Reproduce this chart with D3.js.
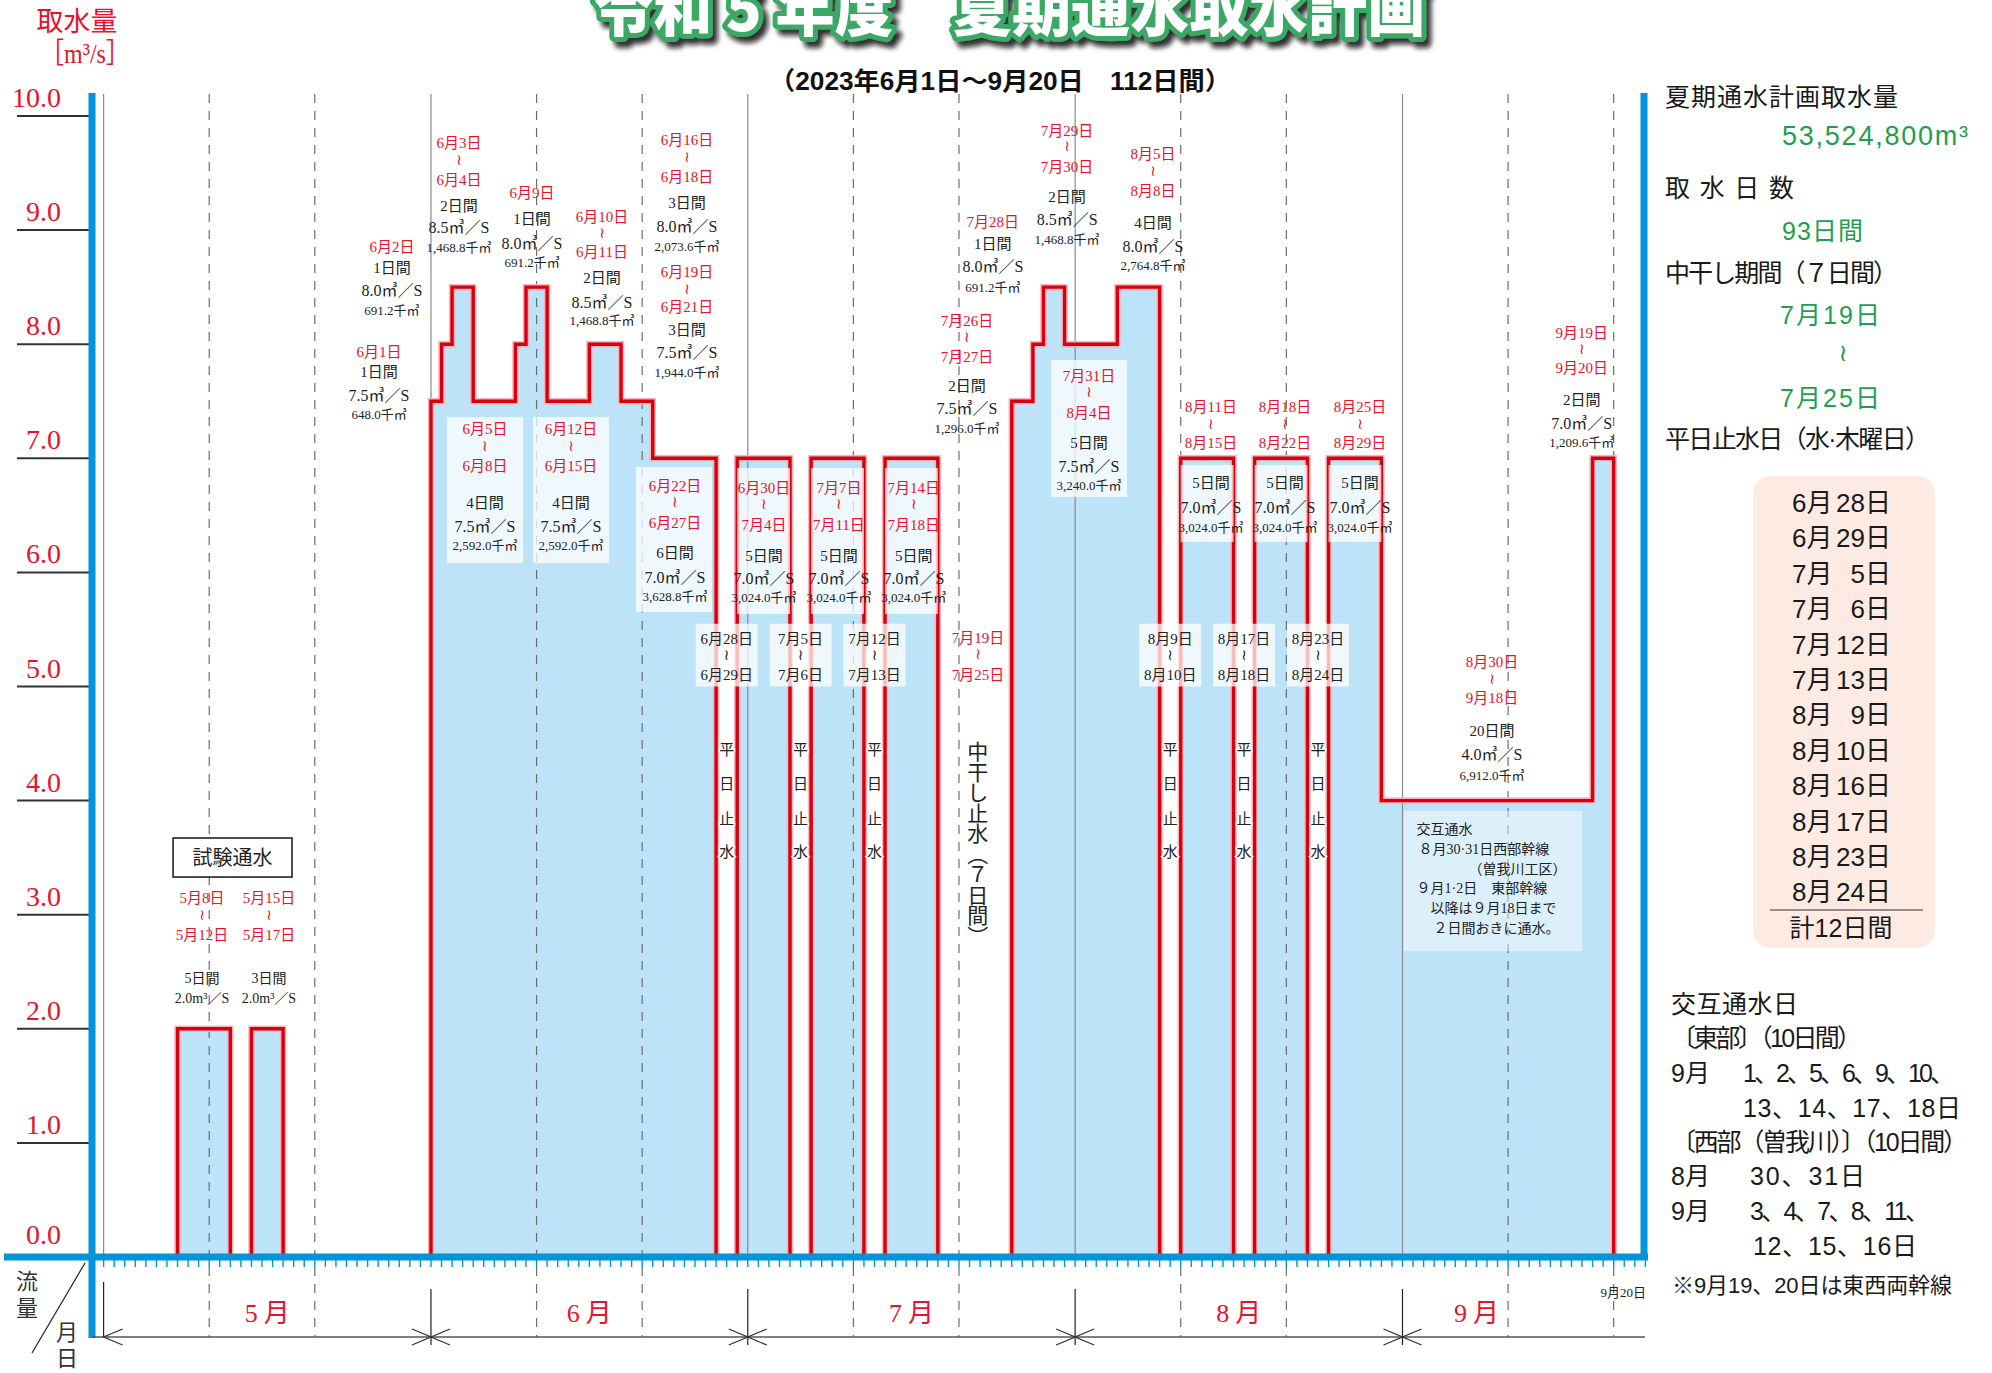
<!DOCTYPE html>
<html><head><meta charset="utf-8">
<script src="https://cdn.jsdelivr.net/npm/d3@7"></script>
<style>body{margin:0;background:#fff} svg{display:block}</style>
</head><body><svg id="c" width="1992" height="1373"></svg>
<script>
// ---------------- DATA ----------------
const periodStart = ["5/8","5/15","6/1","6/2","6/3","6/5","6/9","6/10","6/12","6/16","6/19","6/22","6/30","7/7","7/14","7/26","7/28","7/29","7/31","8/5","8/11","8/18","8/25","8/30","9/19"];
const periodEnd   = ["5/12","5/17","6/1","6/2","6/4","6/8","6/9","6/11","6/15","6/18","6/21","6/27","7/4","7/11","7/18","7/27","7/28","7/30","8/4","8/8","8/15","8/22","8/29","9/18","9/20"];
const flowValues  = [2.0,2.0,7.5,8.0,8.5,7.5,8.0,8.5,7.5,8.0,7.5,7.0,7.0,7.0,7.0,7.5,8.0,8.5,8.0,8.5,7.0,7.0,7.0,4.0,7.0];
const stopStart = ["6/28","7/5","7/12","8/9","8/16","8/23"];
const stopEnd   = ["6/29","7/6","7/13","8/10","8/17","8/24"];
const stopLabelFrom = ["6月28日","7月5日","7月12日","8月9日","8月17日","8月23日"];
const stopLabelTo   = ["6月29日","7月6日","7月13日","8月10日","8月18日","8月24日"];
const dryStart = "7/19", dryEnd = "7/25";
const months = ["5月","6月","7月","8月","9月"];
const monthStart = ["5/1","6/1","7/1","8/1","9/1"];
const yTickValues = [0,1,2,3,4,5,6,7,8,9,10];
const yTickLabels = ["0.0","1.0","2.0","3.0","4.0","5.0","6.0","7.0","8.0","9.0","10.0"];
const panelStopMonths = ["6月","6月","7月","7月","7月","7月","8月","8月","8月","8月","8月","8月"];
const panelStopDays   = ["28日","29日","5日","6日","12日","13日","9日","10日","16日","17日","23日","24日"];

// annotation texts (dx: days from May 1, vy: value level of the first line)
const notes = [
 {dx:26.08, vy:7.932, lines:[["6月1日","R",0],["1日間","C",20],["7.5㎥／S","F",43],["648.0千㎥","V",62]]},
 {dx:27.31, vy:8.852, lines:[["6月2日","R",0],["1日間","C",21],["8.0㎥／S","F",43],["691.2千㎥","V",63]]},
 {dx:33.65, vy:9.763, lines:[["6月3日","R",0],["≀","W",18],["6月4日","R",37],["2日間","C",63],["8.5㎥／S","F",84],["1,468.8千㎥","V",104]]},
 {dx:40.57, vy:9.325, lines:[["6月9日","R",0],["1日間","C",26],["8.0㎥／S","F",50],["691.2千㎥","V",69]]},
 {dx:47.2,  vy:9.115, lines:[["6月10日","R",0],["≀","W",17],["6月11日","R",35],["2日間","C",61],["8.5㎥／S","F",85],["1,468.8千㎥","V",103]]},
 {dx:55.24, vy:9.79,  lines:[["6月16日","R",0],["≀","W",18],["6月18日","R",37],["3日間","C",63],["8.0㎥／S","F",86],["2,073.6千㎥","V",106]]},
 {dx:55.24, vy:8.633, lines:[["6月19日","R",0],["≀","W",18],["6月21日","R",35],["3日間","C",58],["7.5㎥／S","F",80],["1,944.0千㎥","V",100]]},
 {dx:36.11, vy:7.257, box:[32.51,39.71,7.362,6.082], lines:[["6月5日","R",0],["≀","W",18],["6月8日","R",37],["4日間","C",74],["7.5㎥／S","F",97],["2,592.0千㎥","V",116]]},
 {dx:44.26, vy:7.257, box:[40.66,47.86,7.362,6.082], lines:[["6月12日","R",0],["≀","W",18],["6月15日","R",37],["4日間","C",74],["7.5㎥／S","F",97],["2,592.0千㎥","V",116]]},
 {dx:54.1,  vy:6.757, box:[50.42,57.61,6.924,5.653], lines:[["6月22日","R",0],["≀","W",17],["6月27日","R",37],["6日間","C",67],["7.0㎥／S","F",91],["3,628.8千㎥","V",110]]},
 {dx:62.53, vy:6.74, box:[60,65,6.915,5.635], lines:[["6月30日","R",0],["≀","W",17],["7月4日","R",37],["5日間","C",68],["7.0㎥／S","F",90],["3,024.0千㎥","V",109]]},
 {dx:69.63, vy:6.74, box:[67,72,6.915,5.635], lines:[["7月7日","R",0],["≀","W",17],["7月11日","R",37],["5日間","C",68],["7.0㎥／S","F",90],["3,024.0千㎥","V",109]]},
 {dx:76.73, vy:6.74, box:[74,79,6.915,5.635], lines:[["7月14日","R",0],["≀","W",17],["7月18日","R",37],["5日間","C",68],["7.0㎥／S","F",90],["3,024.0千㎥","V",109]]},
 {dx:82.8,  vy:5.425, lines:[["7月19日","R",0],["≀","W",17],["7月25日","R",37]]},
 {dx:81.75, vy:8.203, lines:[["7月26日","R",0],["≀","W",17],["7月27日","R",36],["2日間","C",65],["7.5㎥／S","F",87],["1,296.0千㎥","V",107]]},
 {dx:84.21, vy:9.071, lines:[["7月28日","R",0],["1日間","C",22],["8.0㎥／S","F",44],["691.2千㎥","V",65]]},
 {dx:91.24, vy:9.868, lines:[["7月29日","R",0],["≀","W",16],["7月30日","R",36],["2日間","C",66],["8.5㎥／S","F",88],["1,468.8千㎥","V",108]]},
 {dx:99.37, vy:9.667, lines:[["8月5日","R",0],["≀","W",18],["8月8日","R",37],["4日間","C",69],["8.0㎥／S","F",92],["2,764.8千㎥","V",111]]},
 {dx:93.31, vy:7.721, box:[89.71,96.91,7.862,6.661], lines:[["7月31日","R",0],["≀","W",17],["8月4日","R",37],["5日間","C",67],["7.5㎥／S","F",90],["3,240.0千㎥","V",109]]},
 {dx:104.86, vy:7.45, box:[102,107,6.941,6.266], lines:[["8月11日","R",0],["≀","W",18],["8月15日","R",36],["5日間","C",76],["7.0㎥／S","F",100],["3,024.0千㎥","V",120]]},
 {dx:111.87, vy:7.45, box:[109,114,6.941,6.266], lines:[["8月18日","R",0],["≀","W",18],["8月22日","R",36],["5日間","C",76],["7.0㎥／S","F",100],["3,024.0千㎥","V",120]]},
 {dx:118.97, vy:7.45, box:[116,121,6.941,6.266], lines:[["8月25日","R",0],["≀","W",18],["8月29日","R",36],["5日間","C",76],["7.0㎥／S","F",100],["3,024.0千㎥","V",120]]},
 {dx:131.47, vy:5.215, lines:[["8月30日","R",0],["≀","W",18],["9月18日","R",36],["20日間","C",69],["4.0㎥／S","F",92],["6,912.0千㎥","V",113]]},
 {dx:139.98, vy:8.098, lines:[["9月19日","R",0],["≀","W",17],["9月20日","R",35],["2日間","C",67],["7.0㎥／S","F",90],["1,209.6千㎥","V",109]]},
 {dx:9.32,  vy:3.146, lines:[["5月8日","R",0],["≀","W",18],["5月12日","R",37],["5日間","C2",80],["2.0m³／S","F2",100]]},
 {dx:15.66, vy:3.146, lines:[["5月15日","R",0],["≀","W",18],["5月17日","R",37],["3日間","C2",80],["2.0m³／S","F2",100]]}
];

// ---------------- SETUP ----------------
const RED="#e5132b", LINE_RED="#d6000f", BLUE="#0095d9", FILL="#bde3f8", GREEN="#1f9e4f";
const SERIF="'Liberation Serif','Noto Sans CJK JP',serif";
const SANS="'Liberation Sans','Noto Sans CJK JP',sans-serif";
const WAVE="'DejaVu Sans','Noto Sans CJK JP',sans-serif";
const svg = d3.select("#c");
svg.append("rect").attr("width",1992).attr("height",1373).attr("fill","#fff");
const parseMD = s => { const [m,d]=s.split("/").map(Number); return new Date(Date.UTC(2023,m-1,d)); };
const addDays = (dt,n) => new Date(dt.getTime()+n*864e5);
const origin = parseMD("5/1");
const x = d3.scaleUtc().domain([origin, parseMD("9/21")]).range([103.6, 1613.7]);
const xd = n => x(addDays(origin,n));
const y = d3.scaleLinear().domain([0,10]).range([1257,116]);

// ---------------- STEP SHAPES ----------------
const periods = periodStart.map((s,i)=>({s:parseMD(s), e:addDays(parseMD(periodEnd[i]),1), v:flowValues[i]}));
const runs=[];
periods.forEach(p=>{const last=runs[runs.length-1]; if(last && +last[last.length-1].e===+p.s) last.push(p); else runs.push([p]);});
const runPts = r => {const pts=[[r[0].s,0]]; r.forEach(p=>{pts.push([p.s,p.v]);pts.push([p.e,p.v]);}); pts.push([r[r.length-1].e,0]); return pts;};
const line = d3.line().x(d=>x(d[0])).y(d=>y(d[1]));
svg.append("g").selectAll("path").data(runs).join("path").attr("d",r=>line(runPts(r))+"Z").attr("fill",FILL);

// ---------------- GRID ----------------
const grid = svg.append("g");
const dashDates = [];
monthStart.forEach(m=>{const d=parseMD(m); dashDates.push(addDays(d,10)); dashDates.push(addDays(d,20));});
grid.selectAll("line.d").data(dashDates).join("line").attr("x1",d=>x(d)).attr("x2",d=>x(d)).attr("y1",94).attr("y2",1337)
  .attr("stroke","#6d6d6d").attr("stroke-width",1.2).attr("stroke-dasharray","9,8");
grid.selectAll("line.m").data(monthStart).join("line").attr("x1",d=>x(parseMD(d))).attr("x2",d=>x(parseMD(d))).attr("y1",94).attr("y2",1257)
  .attr("stroke","#8a8a8a").attr("stroke-width",1.2);
grid.selectAll("line.mb").data(monthStart).join("line").attr("x1",d=>x(parseMD(d))).attr("x2",d=>x(parseMD(d))).attr("y1",(d,i)=>i===0?1282:1289).attr("y2",(d,i)=>i===0?1337:1345)
  .attr("stroke","#222").attr("stroke-width",1.2);

// red outlines
const outl = svg.append("g").attr("fill","none");
outl.selectAll("path.h").data(runs).join("path").attr("d",r=>line(runPts(r))).attr("stroke","#f4b6bc").attr("stroke-width",6.5);
outl.selectAll("path.r").data(runs).join("path").attr("d",r=>line(runPts(r))).attr("stroke",LINE_RED).attr("stroke-width",3.4);

// ---------------- ANNOTATIONS ----------------
const st = {
  R:{s:15,f:RED,fam:SERIF}, W:{s:15,f:RED,fam:WAVE,o:-1},
  C:{s:15,f:"#222",fam:SERIF}, F:{s:16,f:"#222",fam:SERIF}, V:{s:13,f:"#222",fam:SERIF},
  C2:{s:14,f:"#222",fam:SERIF}, F2:{s:14,f:"#222",fam:SERIF},
  K:{s:15,f:"#222",fam:SERIF}, KW:{s:15,f:"#222",fam:WAVE,o:-1}
};
const ann = svg.append("g");
const putLine=(g,cx,cy,t,k,dy)=>{const s=st[k];
  g.append("text").attr("x",cx).attr("y",cy+dy+s.s*0.36+(s.o||0)).attr("text-anchor","middle").attr("font-family",s.fam).attr("font-size",s.s).attr("fill",s.f).text(t);};
notes.forEach(n=>{
  const g = ann.append("g");
  if(n.box){ g.append("rect").attr("x",xd(n.box[0])).attr("width",xd(n.box[1])-xd(n.box[0])).attr("y",y(n.box[2])).attr("height",y(n.box[3])-y(n.box[2]))
      .attr("fill","#fff").attr("fill-opacity",0.74); }
  const cx = xd(n.dx), cy = y(n.vy);
  n.lines.forEach(([t,k,dy])=>putLine(g,cx,cy,t,k,dy));
});

// stop (weekday) labels
stopStart.forEach((s,i)=>{
  const cx=(x(parseMD(s))+x(addDays(parseMD(stopEnd[i]),1)))/2;
  const g=ann.append("g");
  g.append("rect").attr("x",cx-31).attr("width",62).attr("y",y(5.55)).attr("height",y(5.0)-y(5.55)).attr("fill","#fff").attr("fill-opacity",0.74);
  const cy=y(5.416);
  [[stopLabelFrom[i],"K",0],["≀","KW",17],[stopLabelTo[i],"K",36]].forEach(([t,k,dy])=>putLine(g,cx,cy,t,k,dy));
  ["平","日","止","水"].forEach((c,j)=>{
    g.append("text").attr("x",cx).attr("y",y(4.452)+[0,34,69,102][j]+5.5).attr("text-anchor","middle").attr("font-family",SERIF).attr("font-size",15)
      .attr("fill","#222").attr("stroke","#fff").attr("stroke-width",3).attr("paint-order","stroke").text(c);
  });
});
// dry period vertical text
{
  const cx=(x(parseMD(dryStart))+x(addDays(parseMD(dryEnd),1)))/2+3;
  const chars=["中","干","し","止","水","︵","７","日","間","︶"];
  chars.forEach((c,j)=>{
    ann.append("text").attr("x",cx).attr("y",y(4.426)+j*20.5+7.5).attr("text-anchor","middle").attr("font-family",SERIF).attr("font-size",21).attr("fill","#222").text(c);
  });
}
// test flow box
ann.append("rect").attr("x",xd(6.58)).attr("width",xd(17.84)-xd(6.58)).attr("y",y(3.672)).attr("height",y(3.33)-y(3.672)).attr("fill","#fff").attr("stroke","#222").attr("stroke-width",1.6);
ann.append("text").attr("x",(xd(6.58)+xd(17.84))/2).attr("y",y(3.501)+7).attr("text-anchor","middle").attr("font-family",SERIF).attr("font-size",20).attr("fill","#222").text("試験通水");

// alternating box in September
{
  const b=ann.append("g");
  b.append("rect").attr("x",xd(123.1)).attr("width",xd(140.0)-xd(123.1)).attr("y",y(3.91)).attr("height",y(2.68)-y(3.91)).attr("fill","#fff").attr("fill-opacity",0.45);
  const L=[["交互通水",0,0],["８月30·31日西部幹線",2,20],["（曽我川工区）",52,40],["９月1·2日　東部幹線",0,59],["以降は９月18日まで",14,79],["２日間おきに通水。",17,99]];
  L.forEach(([t,ox,dy])=>b.append("text").attr("x",xd(123.1)+13+ox).attr("y",y(3.75)+dy+5).attr("font-family",SERIF).attr("font-size",14).attr("fill","#222").text(t));
}

// ---------------- AXES ----------------
const ax = svg.append("g");
ax.selectAll("line.yg").data(yTickValues.filter(v=>v>0)).join("line").attr("x1",17).attr("x2",89).attr("y1",d=>y(d)).attr("y2",d=>y(d)).attr("stroke","#333").attr("stroke-width",2);
ax.selectAll("text.yl").data(yTickValues).join("text").attr("x",61).attr("y",d=>y(d)-(d===0?13:9)).attr("text-anchor","end")
  .attr("font-family",SERIF).attr("font-size",28).attr("fill",RED).text((d,i)=>yTickLabels[i]);
ax.selectAll("line.t").data(d3.range(0,147)).join("line").attr("x1",d=>xd(d)).attr("x2",d=>xd(d)).attr("y1",1259).attr("y2",1267).attr("stroke",BLUE).attr("stroke-width",1.4);
ax.append("line").attr("x1",4).attr("x2",1648).attr("y1",1257).attr("y2",1257).attr("stroke",BLUE).attr("stroke-width",7);
ax.append("line").attr("x1",92).attr("x2",92).attr("y1",93).attr("y2",1338).attr("stroke",BLUE).attr("stroke-width",7);
ax.append("line").attr("x1",1644).attr("x2",1644).attr("y1",93).attr("y2",1260).attr("stroke",BLUE).attr("stroke-width",7);
ax.append("line").attr("x1",92).attr("x2",1645).attr("y1",1337).attr("y2",1337).attr("stroke","#555").attr("stroke-width",1.4);
monthStart.forEach((m,i)=>{const b=x(parseMD(m));
  let d=`M${b+19},1329L${b},1337L${b+19},1345`; if(i>0) d+=`M${b-19},1329L${b},1337L${b-19},1345`;
  ax.append("path").attr("d",d).attr("fill","none").attr("stroke","#333").attr("stroke-width",1.3);});
monthStart.forEach((m,i)=>{const a=x(parseMD(m)); const b= i<4?x(parseMD(monthStart[i+1])):x(parseMD("9/15"));
  ax.append("text").attr("x",(a+b)/2+3).attr("y",1322).attr("text-anchor","middle").attr("font-family",SERIF).attr("font-size",26).attr("letter-spacing",6).attr("fill",RED).text(months[i]);});
ax.append("text").attr("x",1646).attr("y",1297).attr("text-anchor","end").attr("font-family",SERIF).attr("font-size",13).attr("fill","#222").text("9月20日");
ax.append("line").attr("x1",85).attr("y1",1263).attr("x2",32).attr("y2",1353).attr("stroke","#222").attr("stroke-width",1.2);
[["流",27,1289],["量",27,1316],["月",67,1340],["日",67,1366]].forEach(([t,cx,cy])=>ax.append("text").attr("x",cx).attr("y",cy).attr("text-anchor","middle").attr("font-family",SERIF).attr("font-size",22).attr("fill","#333").text(t));
ax.append("text").attr("x",77).attr("y",31).attr("text-anchor","middle").attr("font-family",SERIF).attr("font-size",27).attr("fill",RED).text("取水量");
ax.append("text").attr("x",40).attr("y",63).attr("font-family",SERIF).attr("font-size",28).attr("fill",RED).attr("textLength",90).attr("lengthAdjust","spacingAndGlyphs").text("［m³/s］");

// ---------------- TITLE ----------------
const defs=svg.append("defs");
const fl=defs.append("filter").attr("id","sh").attr("x","-5%").attr("y","-60%").attr("width","112%").attr("height","220%");
fl.append("feDropShadow").attr("dx",5).attr("dy",6).attr("stdDeviation",2.5).attr("flood-color","#111").attr("flood-opacity",0.85);
svg.append("text").attr("x",594).attr("y",31).attr("font-family","'Noto Sans CJK JP',sans-serif").attr("font-weight",900).attr("font-size",60)
  .attr("fill","#fff").attr("stroke","#3aa865").attr("stroke-width",10).attr("stroke-linejoin","round").attr("paint-order","stroke")
  .attr("filter","url(#sh)").attr("textLength",832).attr("lengthAdjust","spacingAndGlyphs").text("令和 5 年度　夏期通水取水計画");
svg.append("text").attr("x",769).attr("y",90).attr("font-family",SANS).attr("font-weight","bold").attr("font-size",25).attr("fill","#111")
  .attr("textLength",462).attr("lengthAdjust","spacingAndGlyphs").text("（2023年6月1日～9月20日　112日間）");

// ---------------- RIGHT PANEL ----------------
const rp=svg.append("g").attr("font-family",SANS).attr("font-size",25).attr("fill","#1a1a1a");
const T=(x0,y0,t,opt={})=>{const e=rp.append("text").attr("x",x0).attr("y",y0).text(t); Object.entries(opt).forEach(([k,v])=>e.attr(k,v)); return e;};
T(1665,106,"夏期通水計画取水量",{textLength:233});
T(1782,145,"53,524,800m³",{fill:GREEN,"font-size":27,textLength:186});
T(1665,197,"取 水 日 数",{textLength:129});
T(1782,240,"93日間",{fill:GREEN,textLength:81});
T(1665,282,"中干し期間（７日間）",{textLength:233});
T(1780,324,"7月19日",{fill:GREEN,textLength:100});
T(1843,361,"≀",{fill:GREEN,"font-family":WAVE,"font-size":24,"text-anchor":"middle"});
T(1780,407,"7月25日",{fill:GREEN,textLength:100});
T(1665,448,"平日止水日（水·木曜日）",{textLength:265});
rp.append("rect").attr("x",1753).attr("y",476).attr("width",182).attr("height",472).attr("rx",18).attr("fill","#fdebe3");
panelStopMonths.forEach((m,i)=>{const yy=512+i*35.4;
  T(1792,yy,m,{"font-size":26}); T(1891,yy,panelStopDays[i],{"font-size":26,"text-anchor":"end"});});
rp.append("line").attr("x1",1770).attr("x2",1923).attr("y1",910).attr("y2",910).attr("stroke","#333").attr("stroke-width",1.2);
T(1841,937,"計12日間",{"font-size":25,"text-anchor":"middle"});
T(1671,1013,"交互通水日",{textLength:127});
T(1671,1047,"〔東部〕（10日間）",{textLength:191});
T(1671,1082,"9月"); T(1743,1082,"1、2、5、6、9、10、",{textLength:212});
T(1743,1117,"13、14、17、18日",{textLength:218});
T(1671,1151,"〔西部（曽我川）〕（10日間）",{textLength:297});
T(1671,1185,"8月"); T(1750,1185,"30、31日",{textLength:115});
T(1671,1220,"9月"); T(1750,1220,"3、4、7、8、11、",{textLength:180});
T(1753,1255,"12、15、16日",{textLength:164});
T(1672,1293,"※9月19、20日は東西両幹線",{"font-size":22,textLength:280});
</script></body></html>
